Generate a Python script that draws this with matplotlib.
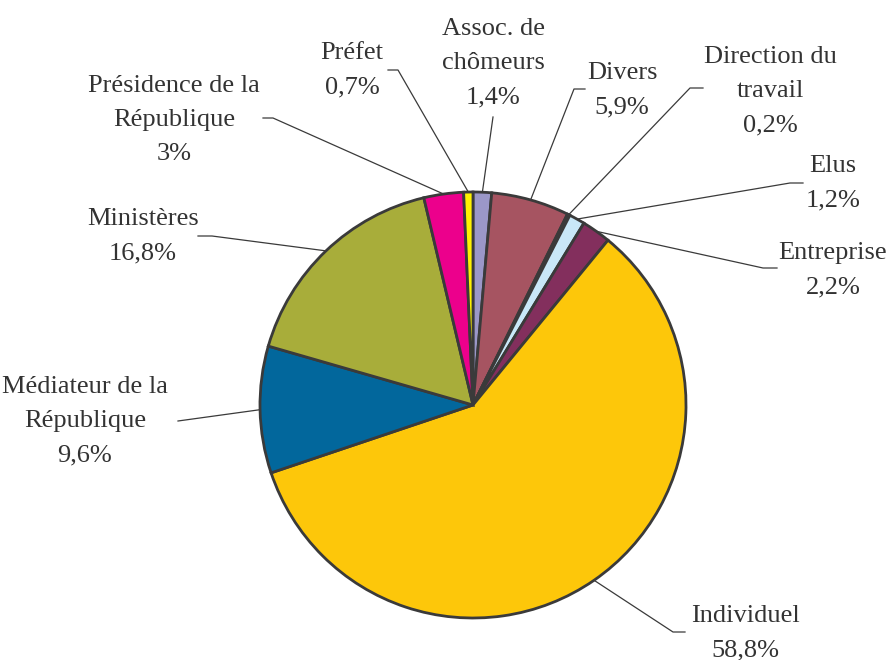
import numpy as np
import matplotlib.pyplot as plt

# data (clockwise from top)
labels = ['Assoc. de\nchômeurs', 'Divers', 'Direction du\ntravail', 'Elus', 'Entreprise',
          'Individuel', 'Médiateur de la\nRépublique', 'Ministères',
          'Présidence de la\nRépublique', 'Préfet']
values = [1.4, 5.9, 0.2, 1.2, 2.2, 58.8, 9.6, 16.8, 3, 0.7]
pct_text = ['1,4%', '5,9%', '0,2%', '1,2%', '2,2%', '58,8%', '9,6%', '16,8%', '3%', '0,7%']
colors = ['#9b97c8', '#a65461', '#ffffcc', '#c9e8f8', '#832f5d',
          '#fdc70a', '#02679c', '#a8ad3a', '#ec008c', '#fff200']

# label layout in pixels: text centre, elbow of leader, end of leader
H = 660
layout = [
    ((493, 63), (493, 117), (493, 117)),
    ((622, 90), (574, 89), (585, 89)),
    ((770, 91), (690, 88), (703, 88)),
    ((833, 183), (790, 183), (803, 183)),
    ((833, 270), (763, 268), (777, 268)),
    ((745, 633), (673, 632), (685, 632)),
    ((85, 421), (178, 421), (178, 421)),
    ((143, 236), (212, 236), (198, 236)),
    ((174, 120), (273, 118), (263, 118)),
    ((352, 70), (398, 70), (388, 70)),
]

plt.rcParams['font.family'] = ['Liberation Serif', 'DejaVu Serif']

fig = plt.figure(figsize=(8.9, 6.6), dpi=100)
ax = fig.add_axes([0, 0, 1, 1])

cx, cy, r = 473, H - 405, 213
wedges, _ = ax.pie(values, colors=colors, startangle=90, counterclock=False,
                   center=(cx, cy), radius=r,
                   wedgeprops=dict(edgecolor='#3a3a3a', linewidth=2))

for w, lab, pt, (tc, elbow, end) in zip(wedges, labels, pct_text, layout):
    ang = np.deg2rad((w.theta1 + w.theta2) / 2)
    ax0 = cx + r * np.cos(ang)
    ay0 = cy + r * np.sin(ang)
    ax.plot([ax0, elbow[0], end[0]], [ay0, H - elbow[1], H - end[1]],
            color='#3a3a3a', lw=0.9, zorder=0)
    ax.text(tc[0], H - tc[1], lab + '\n' + pt, ha='center', va='center',
            fontsize=19, color='#333333', linespacing=1.72)

ax.set_xlim(0, 890)
ax.set_ylim(0, H)
ax.set_aspect('equal')
ax.axis('off')

fig.savefig('out.png', dpi=100, facecolor='white')
